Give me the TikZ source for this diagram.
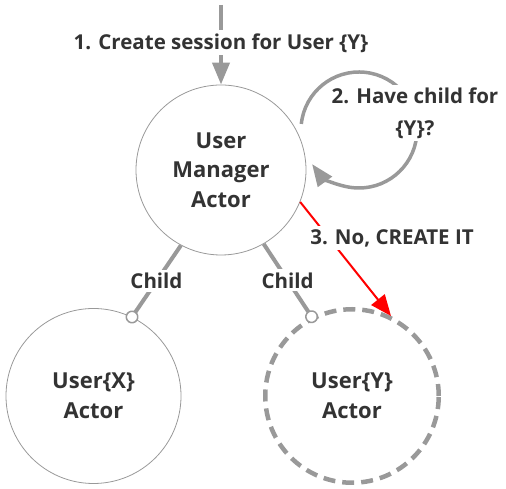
\documentclass[tikz,border=0pt]{standalone}
\usepackage{fontspec}
\setmainfont{Open Sans}
\usetikzlibrary{arrows.meta}
\definecolor{txtdark}{HTML}{333333}
\definecolor{edgegray}{HTML}{999999}
\definecolor{newred}{HTML}{FF0000}

\begin{document}
\begin{tikzpicture}[x=1pt,y=1pt,
  actor/.style={circle,draw=edgegray,line width=0.8pt,minimum size=#1,inner sep=0pt,
    align=center,text=txtdark,font=\bfseries\fontsize{22}{29.5}\selectfont},
  newactor/.style={actor=#1,line width=4.5pt,dash pattern=on 12pt off 7pt},
  lbl/.style={fill=white,inner sep=3pt,align=center,text=txtdark,
    font=\bfseries\fontsize{20.5}{32}\selectfont},
  childlink/.style={draw=edgegray,line width=4pt,shorten >=-6.5pt,
    -{Circle[open,fill=white,line width=1.5pt,length=13pt]}},
  feed/.style={draw=edgegray,line width=4pt,-{Triangle[length=22pt,width=17pt]}},
  create/.style={draw=newred,line width=2pt,-{Triangle[length=21pt,width=17pt]}}]
\path[use as bounding box] (0,0) rectangle (506,489);
% actors
\node[actor=170pt] (um) at (221,319) {User\\Manager\\Actor};
\node[actor=175pt] (ux) at (93.5,93) {User\{X\}\\Actor};
\node[newactor=173.5pt] (uy) at (352,93) {User\{Y\}\\Actor};
% request
\coordinate (src) at (221,484);
\draw[feed] (src) -- node[lbl,pos=0.475] (l1) {1. Create session for User \{Y\}} (um.north);
% self check
\coordinate (loopc) at (359,359);
\draw[feed,line width=3.5pt] ([shift={(174:58)}]loopc) arc[start angle=174,end angle=-144,radius=58];
\node[lbl] (l2) at (415,376) {2. Have child for\\\{Y\}?};
% children
\draw[childlink] (um.242) -- node[lbl] (c1) {Child} (ux.64);
\draw[childlink] (um.300) -- node[lbl] (c2) {Child} (uy.117);
% create
\draw[create] (um.338) -- (uy.64);
\node[lbl] (l3) at (392,251) {3. No, CREATE IT};
\end{tikzpicture}
\end{document}
